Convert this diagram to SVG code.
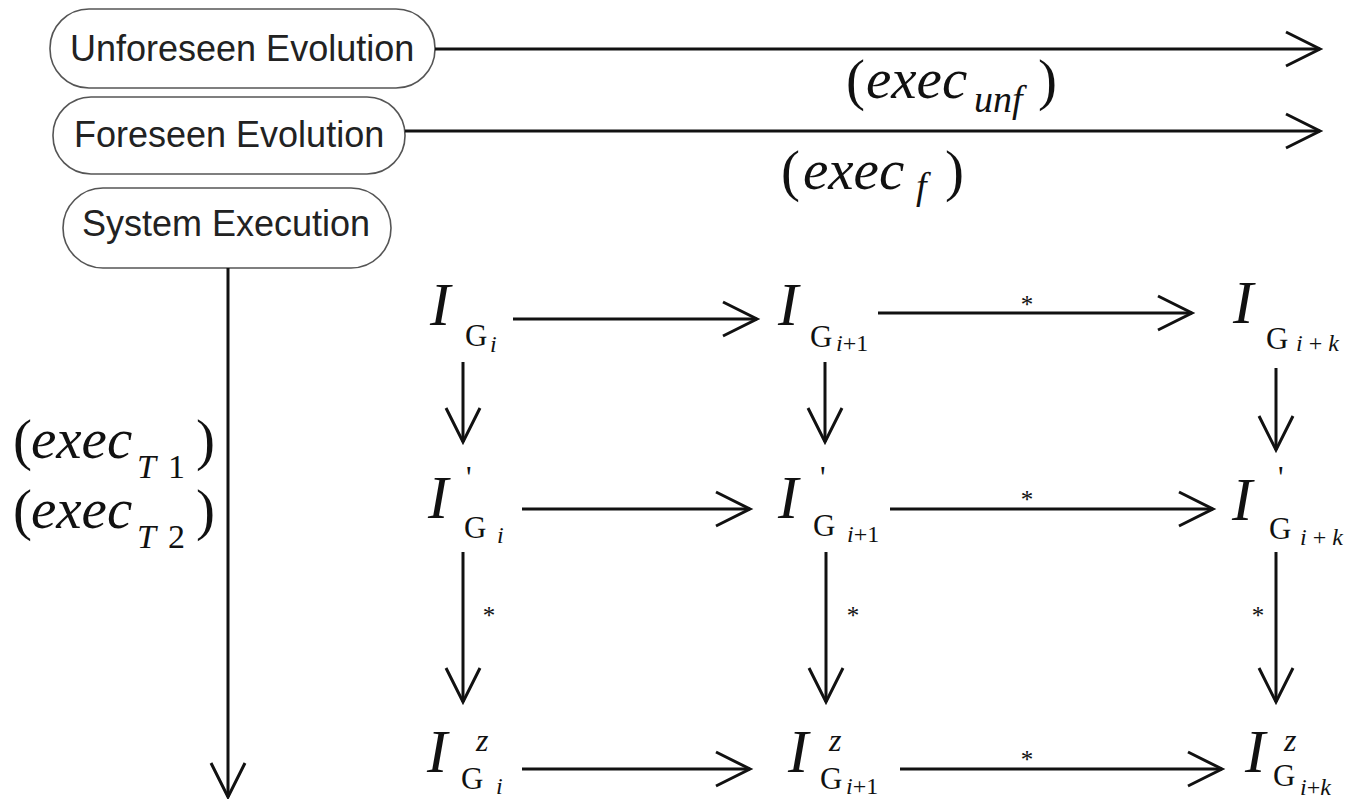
<svg xmlns="http://www.w3.org/2000/svg" width="1354" height="799" viewBox="0 0 1354 799">
<style>
.box{fill:#fff;stroke:#555;stroke-width:1.6}
.lbl{font-family:"Liberation Sans",Arial,sans-serif;font-size:36px;fill:#222}
.m{font-family:"Liberation Serif","Times New Roman",serif;fill:#111}
.it{font-style:italic}
.I{font-size:61px;font-style:italic}
.G{font-size:31px}
.s{font-size:24px}
.star{font-family:"Liberation Serif",serif;font-size:25px;fill:#111;text-anchor:middle}
.ex{font-size:57px}
.c{fill:none;stroke:#111;stroke-width:3;marker-end:url(#head)}
</style>
<defs>
<marker id="head" markerUnits="userSpaceOnUse" markerWidth="44" markerHeight="44" viewBox="-40 -22 44 44" refX="0" refY="0" orient="auto" overflow="visible">
<path d="M-34,-17 L0,0 L-34,17" fill="none" stroke="#111" stroke-width="3"/>
</marker>
</defs>

<g id="unforeseen">
<rect class="box" x="50" y="9" width="385" height="79" rx="39"/>
<text class="lbl" x="70" y="61">Unforeseen Evolution</text>
</g>
<g id="foreseen">
<rect class="box" x="53" y="97" width="352" height="77" rx="38"/>
<text class="lbl" x="74" y="147">Foreseen Evolution</text>
</g>
<g id="system">
<rect class="box" x="63" y="188" width="328" height="80" rx="40"/>
<text class="lbl" x="82" y="236">System Execution</text>
</g>

<g id="label-unf" class="m">
<text class="ex" x="846" y="99">(</text>
<text class="ex it" x="866" y="98">exec</text>
<text class="it" font-size="38" x="974" y="112">unf</text>
<text class="ex" x="1038" y="99">)</text>
</g>
<g id="label-f" class="m">
<text class="ex" x="781" y="190">(</text>
<text class="ex it" x="803" y="189">exec</text>
<text class="it" font-size="38" x="916" y="199">f</text>
<text class="ex" x="945" y="190">)</text>
</g>
<g id="label-t" class="m">
<text class="ex" x="13" y="459">(</text>
<text class="ex it" x="31" y="458">exec</text>
<text class="it" font-size="34" x="137" y="478">T</text>
<text font-size="34" x="168" y="478">1</text>
<text class="ex" x="196" y="459">)</text>
<text class="ex" x="13" y="529">(</text>
<text class="ex it" x="31" y="528">exec</text>
<text class="it" font-size="34" x="137" y="548">T</text>
<text font-size="34" x="168" y="548">2</text>
<text class="ex" x="196" y="529">)</text>
</g>

<g id="n11" class="m">
<text class="I" x="430" y="325">I</text>
<text class="G" x="465" y="346">G</text>
<text class="s it" x="490" y="352">i</text>
</g>
<g id="n12" class="m">
<text class="I" x="778" y="325">I</text>
<text class="G" x="810" y="347">G</text>
<text class="s" x="836" y="351"><tspan class="it">i</tspan>+1</text>
</g>
<g id="n13" class="m">
<text class="I" x="1233" y="323">I</text>
<text class="G" x="1266" y="349">G</text>
<text class="s" x="1296" y="351"><tspan class="it">i</tspan> + <tspan class="it">k</tspan></text>
</g>

<g id="n21" class="m">
<text class="I" x="428" y="518">I</text>
<text class="G" x="466" y="488">'</text>
<text class="G" x="464" y="538">G</text>
<text class="s it" x="497" y="543">i</text>
</g>
<g id="n22" class="m">
<text class="I" x="778" y="518">I</text>
<text class="G" x="820" y="488">'</text>
<text class="G" x="813" y="536">G</text>
<text class="s" x="847" y="542"><tspan class="it">i</tspan>+1</text>
</g>
<g id="n23" class="m">
<text class="I" x="1232" y="520">I</text>
<text class="G" x="1278" y="488">'</text>
<text class="G" x="1269" y="539">G</text>
<text class="s" x="1300" y="545"><tspan class="it">i</tspan> + <tspan class="it">k</tspan></text>
</g>

<g id="n31" class="m">
<text class="I" x="427" y="772">I</text>
<text class="it" font-size="32" x="476" y="751">z</text>
<text class="G" x="461" y="789">G</text>
<text class="s it" x="496" y="794">i</text>
</g>
<g id="n32" class="m">
<text class="I" x="788" y="772">I</text>
<text class="it" font-size="32" x="829" y="751">z</text>
<text class="G" x="820" y="789">G</text>
<text class="s" x="846" y="794"><tspan class="it">i</tspan>+1</text>
</g>
<g id="n33" class="m">
<text class="I" x="1245" y="772">I</text>
<text class="it" font-size="32" x="1284" y="751">z</text>
<text class="G" x="1273" y="786">G</text>
<text class="s" x="1300" y="795"><tspan class="it">i</tspan>+<tspan class="it">k</tspan></text>
</g>

<g id="connectors">
<path class="c" d="M435,49 H1320"/>
<path class="c" d="M405,131 H1320"/>
<path class="c" d="M228,268 V797"/>
<path class="c" d="M513,319 H757"/>
<path class="c" d="M878,313 H1192"/>
<path class="c" d="M522,509 H750"/>
<path class="c" d="M890,509 H1213"/>
<path class="c" d="M522,769 H750"/>
<path class="c" d="M900,769 H1222"/>
<path class="c" d="M463,362 V442"/>
<path class="c" d="M825,362 V442"/>
<path class="c" d="M1276,368 V450"/>
<path class="c" d="M463,552 V702"/>
<path class="c" d="M826,552 V702"/>
<path class="c" d="M1276,552 V702"/>
<text class="star" x="1027" y="313">*</text>
<text class="star" x="1027" y="508">*</text>
<text class="star" x="1027" y="768">*</text>
<text class="star" x="489" y="624">*</text>
<text class="star" x="853" y="624">*</text>
<text class="star" x="1258" y="624">*</text>
</g>
</svg>
